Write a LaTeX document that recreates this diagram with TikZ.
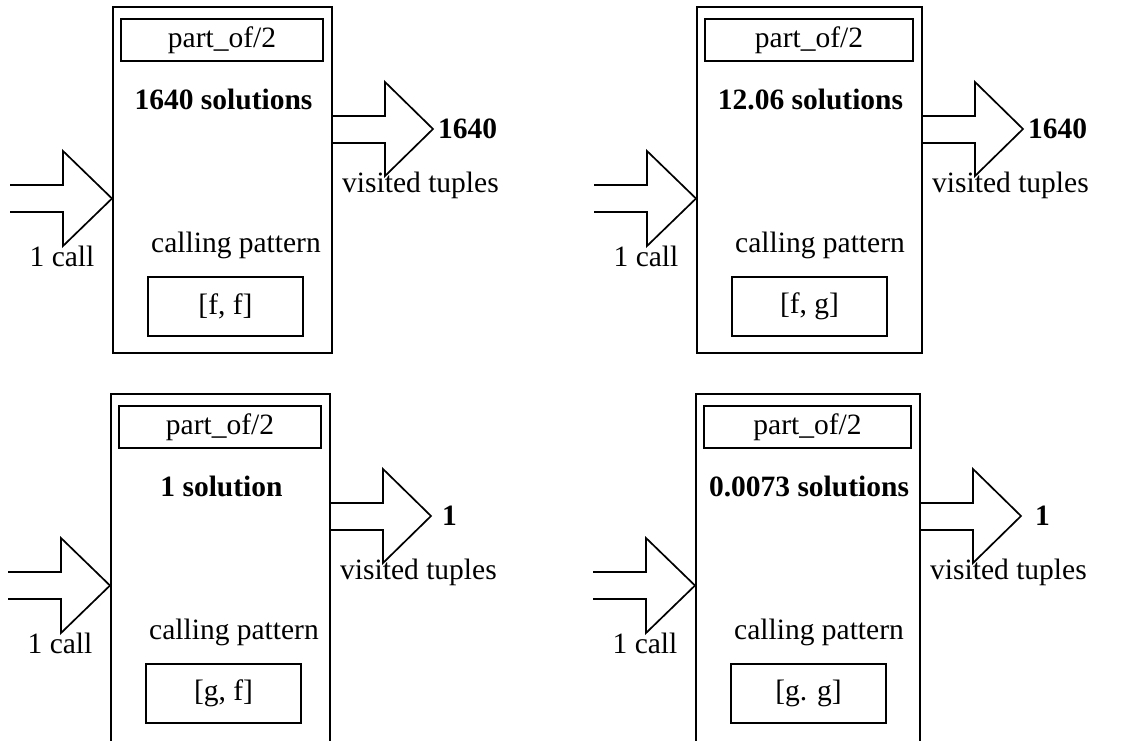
\documentclass[tikz,border=0pt]{standalone}
\usepackage{fontspec}
\setmainfont{Liberation Serif}
\begin{document}
\tikzset{
  boxline/.style={draw, line width=1.7pt, inner sep=0pt},
  panelbox/.style={boxline, anchor=north west},
  labelbox/.style={boxline, anchor=center},
  txt/.style={inner sep=0pt, font=\fontsize{29.5}{34}\selectfont},
  boldtxt/.style={inner sep=0pt, font=\fontsize{29.5}{34}\selectfont\bfseries},
  blockarrow/.style={line width=1.7pt, line join=miter},
}
% #1 id, #2 x, #3 y (top-left of the predicate box), #4 width, #5 height,
% #6 solutions, #7 visited tuples, #8 calling pattern
\newcommand\drawpanel[8]{%
  \begin{scope}[shift={(#2,#3)}]
    \node[panelbox, minimum width=#4pt, minimum height=#5pt] (box#1) at (0,0) {};
    \node[labelbox, txt, minimum width={(#4-17)*1pt}, minimum height=42pt]
      (title#1) at ({(#4-17)/2+9},34) {part\_of/2};
    \node[boldtxt] (sol#1) at ({#4/2+2},93) {#6};
    \node[txt] (cp#1) at (124,239) {calling pattern};
    \node[labelbox, txt, minimum width=155pt, minimum height=59pt]
      (pat#1) at (113.5,300.5) {#8};
    % incoming call
    \coordinate (src#1) at (-102,192.5);
    \coordinate (in#1) at (0,192.5);
    \draw[blockarrow] (src#1) ++(0,-13.5) -- (-49,179) -- (-49,145) -- (in#1)
      -- (-49,240) -- (-49,206) -- ++(-53,0);
    \node[txt] (call#1) at (-50,250) {1 call};
    % outgoing tuples
    \coordinate (out#1) at ({#4+102},123);
    \draw[blockarrow] (#4,110) -- ({#4+54},110) -- ({#4+54},76) -- (out#1)
      -- ({#4+54},170) -- ({#4+54},137) -- (#4,137);
    \node[boldtxt, anchor=west] (num#1) at ([xshift=5pt]out#1) {#7};
    \node[txt, anchor=west] (vt#1) at ({#4+11},179) {visited tuples};
  \end{scope}}

\begin{tikzpicture}[x=1pt, y=-1pt]
  \useasboundingbox (0,0) rectangle (1143,740);
  \clip (0,0) rectangle (1143,740);
  \drawpanel{a}{112}{6}{219}{346}{1640 solutions}{1640}{[f, f]}
  \drawpanel{b}{696}{6}{225}{346}{12.06 solutions}{1640}{[f, g]}
  \drawpanel{c}{110}{393}{219}{360}{1 solution}{\hspace{6pt}1}{[g, f]}
  \drawpanel{d}{695}{393}{224}{360}{0.0073 solutions}{\hspace{9pt}1}{[g. g]}
\end{tikzpicture}
\end{document}
